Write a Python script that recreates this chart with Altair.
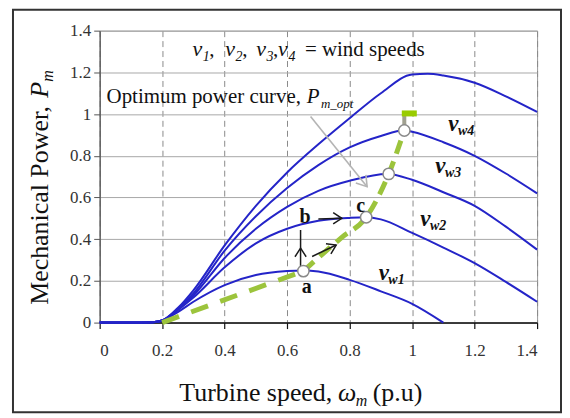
import altair as alt
import pandas as pd

# ---------------- data ----------------
ticks = [0, 0.2, 0.4, 0.6, 0.8, 1.0, 1.2, 1.4]

c1_x = [0, 0.1, 0.17, 0.2, 0.25, 0.3, 0.4, 0.5, 0.6, 0.65, 0.7, 0.8, 0.9, 1.0, 1.1]
c1_y = [0, 0, 0.002, 0.01, 0.05, 0.10, 0.18, 0.228, 0.247, 0.25, 0.245, 0.205, 0.15, 0.09, 0.0]

c2_x = [0, 0.1, 0.17, 0.2, 0.25, 0.3, 0.4, 0.5, 0.6, 0.7, 0.8, 0.85, 0.9, 1.0, 1.1, 1.2, 1.3, 1.4]
c2_y = [0, 0, 0.002, 0.01, 0.06, 0.12, 0.265, 0.38, 0.45, 0.488, 0.502, 0.505, 0.495, 0.43, 0.36, 0.285, 0.195, 0.10]

c3_x = [0, 0.1, 0.17, 0.2, 0.25, 0.3, 0.4, 0.5, 0.6, 0.7, 0.8, 0.92, 1.0, 1.1, 1.2, 1.3, 1.4]
c3_y = [0, 0, 0.002, 0.01, 0.062, 0.13, 0.31, 0.45, 0.555, 0.632, 0.68, 0.713, 0.685, 0.625, 0.56, 0.46, 0.35]

c4_x = [0, 0.1, 0.17, 0.2, 0.25, 0.3, 0.4, 0.5, 0.6, 0.7, 0.8, 0.9, 0.975, 1.0, 1.1, 1.2, 1.3, 1.4]
c4_y = [0, 0, 0.002, 0.01, 0.066, 0.14, 0.345, 0.51, 0.645, 0.755, 0.84, 0.895, 0.922, 0.915, 0.865, 0.80, 0.715, 0.62]

c5_x = [0, 0.1, 0.17, 0.2, 0.25, 0.3, 0.4, 0.5, 0.6, 0.7, 0.8, 0.9, 1.0, 1.05, 1.1, 1.2, 1.3, 1.4]
c5_y = [0, 0, 0.002, 0.01, 0.07, 0.155, 0.37, 0.56, 0.72, 0.855, 0.98, 1.10, 1.19, 1.193, 1.185, 1.15, 1.085, 1.01]

# optimum power curve
opt_low_x = [0.2, 0.652]
opt_low_y = [0.0, 0.247]
opt_up_x = [0.652, 0.776, 0.853, 0.925, 0.975]
opt_up_y = [0.247, 0.41, 0.505, 0.713, 0.921]
opt_vert_x = [0.975, 0.975]
opt_vert_y = [0.921, 1.0]
opt_top_x = [0.967, 1.015]
opt_top_y = [1.003, 1.003]

# operating points a, c, and peaks of vw3, vw4
pts_x = [0.652, 0.853, 0.925, 0.975]
pts_y = [0.247, 0.505, 0.713, 0.921]

# arrows (shaft start/end, head position and direction)
gray_arrow = dict(x1=[0.675], y1=[0.988], x2=[0.856], y2=[0.652])
gray_head = dict(x=[0.856], y=[0.652], a=[51])
black_shafts = dict(x1=[0.643, 0.680, 0.700], y1=[0.252, 0.317, 0.497],
                    x2=[0.643, 0.757, 0.775], y2=[0.444, 0.372, 0.500])
black_heads = dict(x=[0.643, 0.757, 0.775], y=[0.357, 0.372, 0.500], a=[270, 334, 0])

# ---------------- helpers ----------------
FONT = "Liberation Serif"
BLUE = "#2424c8"
GREEN = "#9cc43c"
xsc = alt.Scale(domain=[0, 1.4], nice=False, zero=False)
ysc = alt.Scale(domain=[0, 1.4], nice=False, zero=False)

xaxis = alt.Axis(values=ticks, format="~g", grid=True, gridDash=[6, 4], gridColor="#8a8a8a",
                 gridWidth=1, domainColor="#111", domainWidth=1.5, tickColor="#111", tickSize=6,
                 tickWidth=1.2, labelFont=FONT, labelFontSize=17, labelColor="#333",
                 labelPadding=14, title=None)
yaxis = alt.Axis(values=ticks, format="~g", grid=True, gridColor="#a8a8a8", gridWidth=1,
                 domainColor="#555", domainWidth=1.2, tickColor="#555", tickSize=6,
                 labelFont=FONT, labelFontSize=17, labelColor="#333", labelPadding=3, title=None)


def X(f):
    return alt.X(f, type="quantitative", scale=xsc, axis=xaxis)


def Y(f):
    return alt.Y(f, type="quantitative", scale=ysc, axis=yaxis)


def text_layer(xs, ys, texts, **kw):
    df = pd.DataFrame({"x": xs, "y": ys, "t": texts})
    return alt.Chart(df).mark_text(font=FONT, color="#111", **kw).encode(
        x=X("x"), y=Y("y"), text="t:N")


def line_layer(xs, ys, **kw):
    df = pd.DataFrame({"x": xs, "y": ys, "o": list(range(len(xs)))})
    return alt.Chart(df).mark_line(**kw).encode(x=X("x"), y=Y("y"), order="o:Q")


HEAD = "M -1 -0.65 L 0 0 L -1 0.65"

# ---------------- layers ----------------
rows = []
for name, cx, cy in [("vw1", c1_x, c1_y), ("vw2", c2_x, c2_y), ("vw3", c3_x, c3_y),
                     ("vw4", c4_x, c4_y), ("vw5", c5_x, c5_y)]:
    for i, (a, b) in enumerate(zip(cx, cy)):
        rows.append({"curve": name, "w": a, "p": b, "o": i})
curves = pd.DataFrame(rows)

blue = alt.Chart(curves).mark_line(color=BLUE, strokeWidth=2, interpolate="monotone").encode(
    x=X("w"), y=Y("p"), detail="curve:N", order="o:Q")

opt_low = line_layer(opt_low_x, opt_low_y, color=GREEN, strokeWidth=5, strokeDash=[18, 13])
opt_up = line_layer(opt_up_x, opt_up_y, color=GREEN, strokeWidth=5, strokeDash=[14, 8],
                    interpolate="monotone")
opt_vert = line_layer(opt_vert_x, opt_vert_y, color="#a0a090", strokeWidth=4)
opt_top = line_layer(opt_top_x, opt_top_y, color="#99cc00", strokeWidth=6)

circles = alt.Chart(pd.DataFrame({"x": pts_x, "y": pts_y})).mark_point(
    shape="circle", filled=True, fill="white", stroke="#8a8a8a", strokeWidth=1.5, size=130,
    opacity=1).encode(x=X("x"), y=Y("y"))

g_shaft = alt.Chart(pd.DataFrame(gray_arrow)).mark_rule(color="#b4b4b4", strokeWidth=1.6).encode(
    x=X("x1"), y=Y("y1"), x2="x2", y2="y2")
g_head = alt.Chart(pd.DataFrame(gray_head)).mark_point(
    shape=HEAD, filled=False, stroke="#b4b4b4", strokeWidth=1.6, size=400, opacity=1).encode(
    x=X("x"), y=Y("y"), angle=alt.Angle("a:Q", scale=None))
b_shaft = alt.Chart(pd.DataFrame(black_shafts)).mark_rule(color="#1a1a1a", strokeWidth=1.5).encode(
    x=X("x1"), y=Y("y1"), x2="x2", y2="y2")
b_head = alt.Chart(pd.DataFrame(black_heads)).mark_point(
    shape=HEAD, filled=False, stroke="#1a1a1a", strokeWidth=1.5, size=300, opacity=1).encode(
    x=X("x"), y=Y("y"), angle=alt.Angle("a:Q", scale=None))

# texts
top_it = text_layer([0.297, 0.402, 0.501, 0.571], [1.279] * 4, ["v", "v", "v", "v"],
                    fontSize=22, fontStyle="italic", align="left", baseline="alphabetic")
top_sub = text_layer([0.330, 0.435, 0.534, 0.604], [1.279] * 4, ["1", "2", "3", "4"],
                     fontSize=14, fontStyle="italic", align="left", baseline="alphabetic", dy=5)
top_norm = text_layer([0.351, 0.456, 0.555, 0.657, 0.022],
                      [1.279, 1.279, 1.279, 1.279, 1.054],
                      [",", ",", ",", "= wind speeds", "Optimum power curve,"],
                      fontSize=21, align="left", baseline="alphabetic")
p_it = text_layer([0.663], [1.054], ["P"], fontSize=21, fontStyle="italic", align="left",
                  baseline="alphabetic")
p_sub = text_layer([0.708], [1.054], ["m_opt"], fontSize=13, fontStyle="italic", align="left",
                   baseline="alphabetic", dy=5)

abc = text_layer([0.663, 0.657, 0.835], [0.172, 0.505, 0.56], ["a", "b", "c"],
                 fontSize=20, fontWeight="bold", align="center", baseline="middle")

vw_vx = [0.893, 1.026, 1.074, 1.116]
vw_vy = [0.205, 0.464, 0.718, 0.919]
vw_v = text_layer(vw_vx, vw_vy, ["v", "v", "v", "v"],
                  fontSize=23, fontStyle="italic", fontWeight="bold", align="left",
                  baseline="alphabetic")
vw_sub = text_layer([v + 0.031 for v in vw_vx], vw_vy,
                    ["w1", "w2", "w3", "w4"], fontSize=14, fontStyle="italic", fontWeight="bold",
                    align="left", baseline="alphabetic", dy=4)

# axis titles (as text, to allow italic symbols and subscripts)
xt_norm = text_layer([0.255, 0.874], [-0.376, -0.376], ["Turbine speed,", "(p.u)"], fontSize=26,
                     align="left", baseline="alphabetic")
xt_it = text_layer([0.763], [-0.376], ["ω"], fontSize=26, fontStyle="italic", align="left",
                   baseline="alphabetic")
xt_sub = text_layer([0.820], [-0.376], ["m"], fontSize=16, fontStyle="italic", align="left",
                    baseline="alphabetic", dy=5)

yt_norm = text_layer([-0.166], [0.085], ["Mechanical Power,"], fontSize=26, angle=270,
                     align="left", baseline="alphabetic")
yt_it = text_layer([-0.166], [1.078], ["P"], fontSize=26, fontStyle="italic", angle=270,
                   align="left", baseline="alphabetic")
yt_sub = text_layer([-0.166], [1.155], ["m"], fontSize=16, fontStyle="italic", angle=270,
                    align="left", baseline="alphabetic", dy=5)

frame = alt.Chart(pd.DataFrame({"k": [0]})).mark_rect(
    fill=None, stroke="#333", strokeWidth=2).encode(
    x=alt.value(-87), x2=alt.value(463), y=alt.value(-21), y2=alt.value(383))

chart = alt.layer(
    blue, opt_low, opt_up, opt_vert, opt_top, g_shaft, g_head, b_shaft, b_head, circles,
    top_it, top_sub, top_norm, p_it, p_sub, abc, vw_v, vw_sub,
    xt_norm, xt_it, xt_sub, yt_norm, yt_it, yt_sub, frame
).properties(
    width=439, height=293,
    autosize=alt.AutoSizeParams(type="none"),
    padding={"left": 92, "top": 22, "right": 25, "bottom": 91},
).configure_view(stroke="#999", strokeWidth=1).configure_axis(labelFont=FONT)

chart.save("out.html", embed_options={"renderer": "svg", "actions": False})
